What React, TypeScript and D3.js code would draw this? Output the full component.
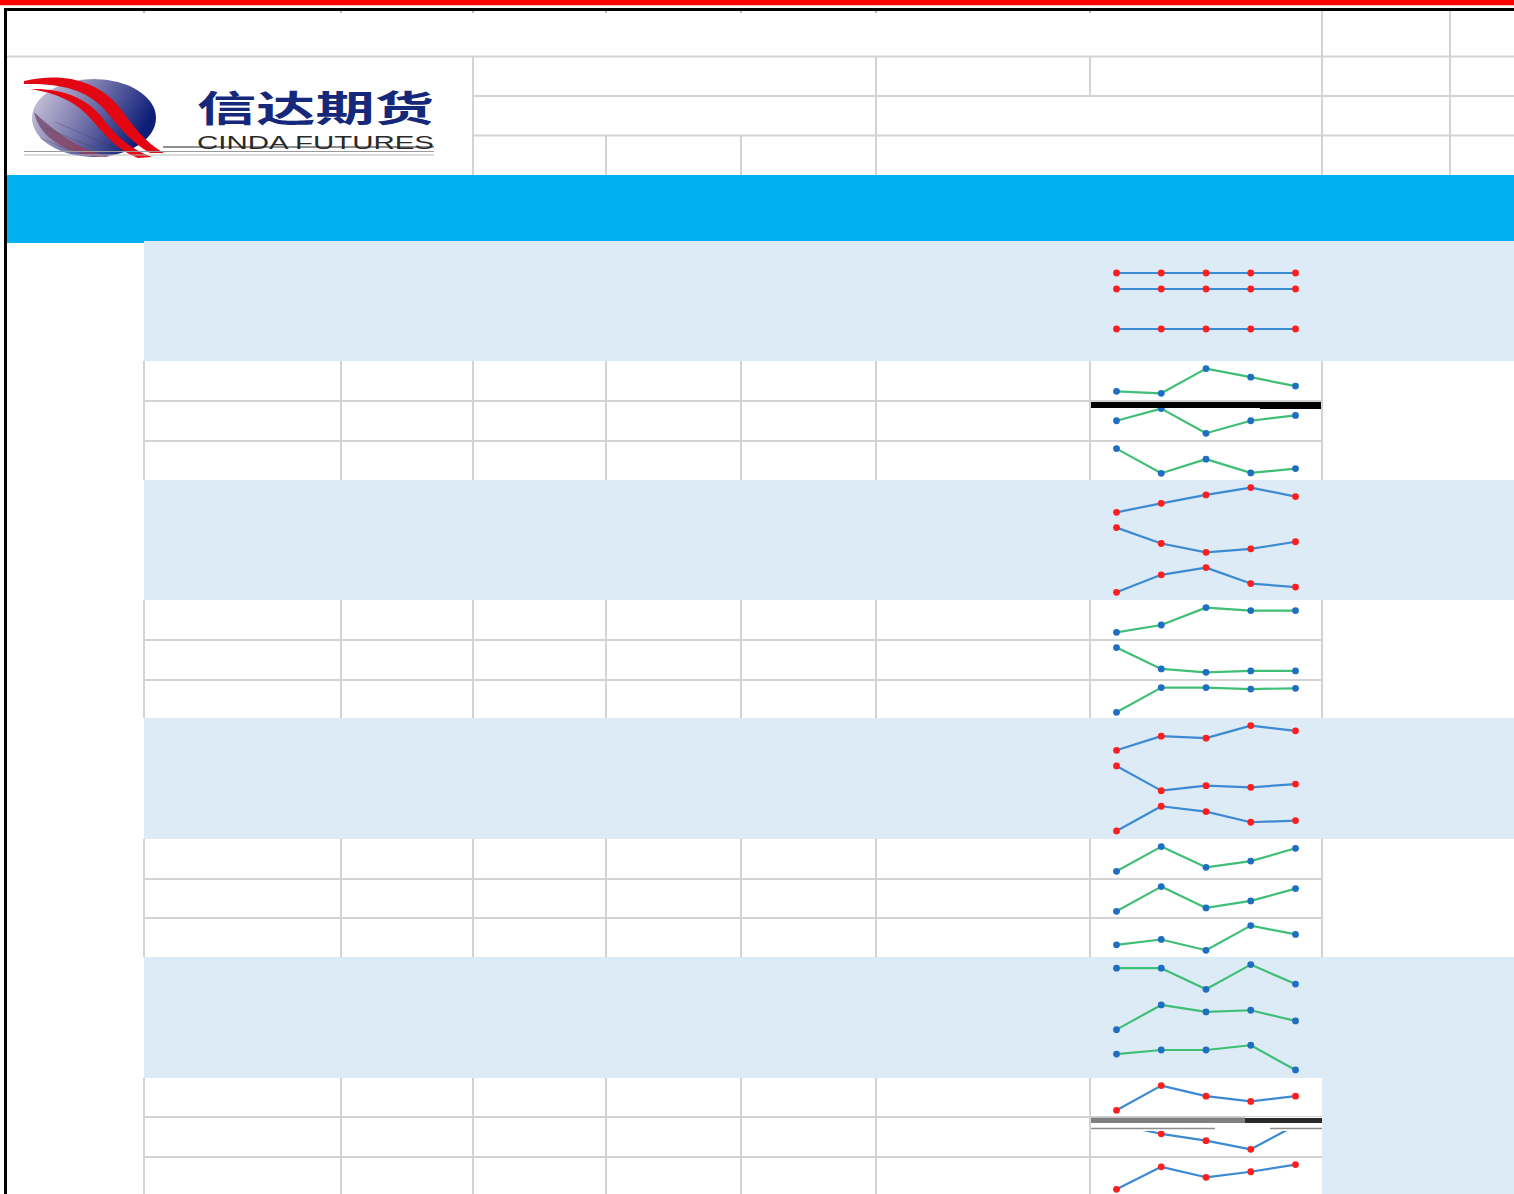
import React from 'react';
import * as d3 from 'd3';

// ---------- data ----------
const periods = ['P1', 'P2', 'P3', 'P4', 'P5'];

// band 1: three flat series on one shared scale
const flatTop = [5.5, 5.5, 5.5, 5.5, 5.5];
const flatMid = [5.0, 5.0, 5.0, 5.0, 5.0];
const flatLow = [3.75, 3.75, 3.75, 3.75, 3.75];

const a1 = [90, 70, 320, 233, 143];
const a2 = [207, 327, 83, 207, 260];
const a3 = [317, 73, 213, 77, 120];

const b1 = [73, 163, 247, 320, 230];
const b2 = [317, 160, 73, 107, 177];
const b3 = [73, 253, 327, 163, 127];

const c1 = [80, 153, 327, 297, 297];
const c2 = [330, 117, 83, 97, 97];
const c3 = [87, 327, 327, 313, 320];

const dd1 = [60, 203, 183, 310, 257];
const dd2 = [317, 67, 117, 100, 133];
const dd3 = [73, 320, 267, 160, 177];

const e1 = [80, 330, 120, 183, 313];
const e2 = [83, 330, 117, 187, 310];
const e3 = [127, 180, 73, 317, 230];

const f1 = [280, 280, 63, 317, 117];
const f2 = [73, 320, 250, 267, 160];
const f3 = [237, 277, 277, 324, 80];

const g1 = [80, 330, 223, 170, 223];
const g2 = [320, 227, 157, 70, 310];
const g3 = [77, 307, 200, 257, 330];

// ---------- layout ----------
const W = 1514;
const H = 1194;
const GRID = '#D3D3D3';
const LIGHT = '#DDEBF7';
const BLUE = '#00B0F0';
const COLS = [144, 341, 473, 606, 741, 876, 1090, 1322];
const SPARK_L = 1090;
const SPARK_R = 1322;

type Section = {
  type: 'band' | 'rows';
  top: number;
  bottom: number;
  tops?: number[];
  style: 'rb' | 'gb';
  shared?: boolean;
  last?: boolean;
  series: number[][];
};

const sections: Section[] = [
  { type: 'band', top: 241, bottom: 361, style: 'rb', shared: true, series: [flatTop, flatMid, flatLow] },
  { type: 'rows', top: 361, bottom: 480, tops: [361, 401, 441], style: 'gb', series: [a1, a2, a3] },
  { type: 'band', top: 480, bottom: 600, style: 'rb', series: [b1, b2, b3] },
  { type: 'rows', top: 600, bottom: 718, tops: [600, 640, 680], style: 'gb', series: [c1, c2, c3] },
  { type: 'band', top: 718, bottom: 839, style: 'rb', series: [dd1, dd2, dd3] },
  { type: 'rows', top: 839, bottom: 957, tops: [839, 879, 918], style: 'gb', series: [e1, e2, e3] },
  { type: 'band', top: 957, bottom: 1078, style: 'gb', series: [f1, f2, f3] },
  { type: 'rows', top: 1078, bottom: 1196, tops: [1078, 1117, 1157], style: 'rb', last: true, series: [g1, g2, g3] },
];

const STYLES = {
  rb: { line: '#3B8AD2', marker: '#FF1E1E' },
  gb: { line: '#3FBF76', marker: '#1E6FC2' },
};

const xScale = d3.scalePoint<string>().domain(periods).range([SPARK_L + 26.5, SPARK_R - 26.5]);

function Spark({ values, y, style }: { values: number[]; y: d3.ScaleLinear<number, number>; style: 'rb' | 'gb' }) {
  const line = d3
    .line<number>()
    .x((_, i) => xScale(periods[i]) as number)
    .y((v) => y(v));
  const s = STYLES[style];
  return (
    <g>
      <path d={line(values) || ''} fill="none" stroke={s.line} strokeWidth={2.2} strokeLinejoin="round" />
      {values.map((v, i) => (
        <circle key={i} cx={xScale(periods[i]) as number} cy={y(v)} r={3.4} fill={s.marker} />
      ))}
    </g>
  );
}

function rowScale(values: number[], top: number) {
  const ext = d3.extent(values) as [number, number];
  return d3.scaleLinear().domain(ext).range([top + 32.3, top + 7.6]);
}

function Logo() {
  return (
    <g>
      <defs>
        <linearGradient id="globe" x1="0" y1="0" x2="1" y2="0.35">
          <stop offset="0" stopColor="#D6D2E4" />
          <stop offset="0.4" stopColor="#8E8BB8" />
          <stop offset="1" stopColor="#0E1E78" />
        </linearGradient>
        <linearGradient id="globeLow" x1="0" y1="0" x2="1" y2="1">
          <stop offset="0" stopColor="#6E5A82" stopOpacity="0.9" />
          <stop offset="1" stopColor="#9B3550" stopOpacity="0.8" />
        </linearGradient>
      </defs>
      <ellipse cx={94} cy={118} rx={62} ry={39} fill="url(#globe)" />
      <path d="M34,112 C40,140 70,156 110,157 C80,150 55,132 34,112 Z" fill="url(#globeLow)" />
      <path
        d="M24,81 C62,72 98,80 120,108 C134,127 146,143 164,153 L150,153 C131,142 118,126 105,110 C86,88 56,83 24,84 Z"
        fill="#E30613"
      />
      <path
        d="M30,89 C62,88 86,98 101,116 C113,132 127,148 152,157 L138,158 C117,150 104,134 92,120 C76,101 56,93 30,89 Z"
        fill="#E30613"
      />
      <path d="M40,138 L70,150 M45,128 L95,148 M55,122 L120,150" stroke="#3a3a3a" strokeWidth={0.6} opacity={0.5} />
      <text
        x={197}
        y={122}
        fontFamily="'Noto Sans CJK SC', sans-serif"
        fontWeight="bold"
        fontSize={36}
        fill="#15287A"
        textLength={237}
        lengthAdjust="spacingAndGlyphs"
      >
        信达期货
      </text>
      <text
        x={197}
        y={149}
        fontFamily="'Liberation Sans', Arial, sans-serif"
        fontSize={18}
        fill="#2A2A2A"
        textLength={237}
        lengthAdjust="spacingAndGlyphs"
      >
        CINDA FUTURES
      </text>
      <line x1={163} x2={434} y1={147} y2={147} stroke="#222" strokeWidth={1} />
      <line x1={24} x2={434} y1={151.5} y2={151.5} stroke="#9A9A9A" strokeWidth={1} />
      <line x1={24} x2={434} y1={155} y2={155} stroke="#BDBDBD" strokeWidth={1} />
    </g>
  );
}

export default function App() {
  return (
    <svg
      width={W}
      height={H}
      style={{ position: 'absolute', left: 0, top: 0, background: '#fff' }}
      xmlns="http://www.w3.org/2000/svg"
    >
      <rect x={0} y={0} width={W} height={H} fill="#fff" />
      {/* top red bar */}
      <rect x={0} y={0} width={W} height={5} fill="#FF0000" />
      <rect x={0} y={5} width={W} height={1} fill="#F6B8B8" />

      {/* header grid */}
      <line x1={7} x2={W} y1={56.5} y2={56.5} stroke={GRID} strokeWidth={2} />
      <line x1={473} x2={W} y1={96} y2={96} stroke={GRID} strokeWidth={2} />
      <line x1={473} x2={W} y1={135.5} y2={135.5} stroke={GRID} strokeWidth={2} />
      <line x1={1322} x2={1322} y1={11} y2={175} stroke={GRID} strokeWidth={2} />
      <line x1={1450} x2={1450} y1={11} y2={175} stroke={GRID} strokeWidth={2} />
      <line x1={473} x2={473} y1={57} y2={175} stroke={GRID} strokeWidth={2} />
      <line x1={876} x2={876} y1={57} y2={175} stroke={GRID} strokeWidth={2} />
      <line x1={1090} x2={1090} y1={57} y2={96} stroke={GRID} strokeWidth={2} />
      <line x1={606} x2={606} y1={135} y2={175} stroke={GRID} strokeWidth={2} />
      <line x1={741} x2={741} y1={135} y2={175} stroke={GRID} strokeWidth={2} />
      {[144, 341, 473, 606, 741, 876, 1090].map((c) => (
        <line key={c} x1={c} x2={c} y1={11} y2={13} stroke="#BBBBBB" strokeWidth={2} />
      ))}

      <Logo />

      {/* blue title band */}
      <rect x={7} y={175} width={W - 7} height={66} fill={BLUE} />
      <rect x={7} y={241} width={137} height={2} fill={BLUE} />

      {/* body */}
      {sections.map((sec, si) => {
        if (sec.type === 'band') {
          const h = (sec.bottom - sec.top) / 3;
          let shared: d3.ScaleLinear<number, number> | null = null;
          if (sec.shared) {
            const all = sec.series.flat();
            shared = d3
              .scaleLinear()
              .domain(d3.extent(all) as [number, number])
              .range([sec.bottom - 32, sec.top + 32]);
          }
          return (
            <g key={si}>
              <rect x={144} y={sec.top} width={W - 144} height={sec.bottom - sec.top} fill={LIGHT} />
              {sec.series.map((vals, i) => (
                <Spark key={i} values={vals} style={sec.style} y={shared || rowScale(vals, sec.top + i * h)} />
              ))}
            </g>
          );
        }
        const tops = sec.tops as number[];
        const vcols = sec.last ? COLS.slice(0, 7) : COLS;
        return (
          <g key={si}>
            {sec.last && <rect x={1322} y={sec.top} width={W - 1322} height={sec.bottom - sec.top} fill={LIGHT} />}
            {tops.slice(1).map((t) => (
              <line key={t} x1={144} x2={1322} y1={t} y2={t} stroke={GRID} strokeWidth={2} />
            ))}
            {vcols.map((c) => (
              <line key={c} x1={c} x2={c} y1={sec.top} y2={sec.bottom} stroke={GRID} strokeWidth={2} />
            ))}
            {sec.series.map((vals, i) => (
              <Spark key={i} values={vals} style={sec.style} y={rowScale(vals, tops[i])} />
            ))}
          </g>
        );
      })}

      {/* rendering glitches present in the reference */}
      <rect x={1091} y={402} width={230} height={6} fill="#000" />
      <rect x={1260} y={402} width={61} height={7} fill="#000" />
      <rect x={1091} y={1117} width={231} height={14} fill="#fff" />
      <rect x={1091} y={1117.5} width={154} height={5.5} fill="#808080" />
      <rect x={1245} y={1118} width={77} height={5} fill="#2A2A2A" />
      <line x1={1091} x2={1215} y1={1128.5} y2={1128.5} stroke="#8C8C8C" strokeWidth={1.5} />
      <line x1={1270} x2={1322} y1={1128.5} y2={1128.5} stroke="#8C8C8C" strokeWidth={1.5} />

      {/* outer black frame */}
      <rect x={4} y={8} width={W - 4} height={3} fill="#000" />
      <rect x={4} y={8} width={3} height={H - 8} fill="#000" />
    </svg>
  );
}
